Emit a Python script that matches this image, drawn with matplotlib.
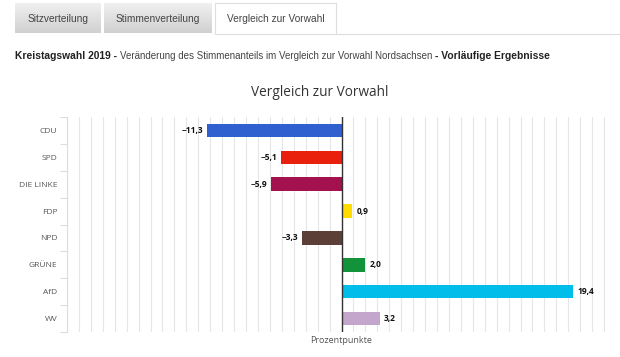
import numpy as np
import matplotlib.pyplot as plt
from matplotlib.patches import Rectangle
from matplotlib.colors import LinearSegmentedColormap

parties = ["CDU", "SPD", "DIE LINKE", "FDP", "NPD", "GRÜNE", "AfD", "WV"]
change = [-11.3, -5.1, -5.9, 0.9, -3.3, 2.0, 19.4, 3.2]
colors = ["#3060d0", "#e8200c", "#a3124e", "#ffdc00", "#5c4038", "#12933a", "#00bdea", "#c4a6cc"]
tabs = ["Sitzverteilung", "Stimmenverteilung", "Vergleich zur Vorwahl"]

W, H = 620, 357
plt.rcParams['font.family'] = ['Liberation Sans', 'DejaVu Sans']
fig = plt.figure(figsize=(W / 100, H / 100), dpi=100)


def fx(px):
    return px / W


def fy(py):
    return 1 - py / H


# tabs
tab_x = [(15, 101), (104, 212), (215, 336)]
grad = np.linspace(0, 1, 50).reshape(-1, 1)
tab_cmap = LinearSegmentedColormap.from_list("tab", ["#d0d0d0", "#f0f0f0"])
for (x0, x1), name, i in zip(tab_x, tabs, range(3)):
    if i < 2:
        tax = fig.add_axes([fx(x0), fy(33), fx(x1 - x0), (33 - 3) / H])
        tax.imshow(grad, aspect='auto', cmap=tab_cmap, extent=[0, 1, 0, 1], origin='lower')
        tax.set_axis_off()
    else:
        fig.patches.append(Rectangle((fx(x0), fy(34)), fx(x1 - x0), (34 - 3) / H,
                                     transform=fig.transFigure, facecolor='white',
                                     edgecolor='#dddddd', lw=0.8))
    fig.text(fx((x0 + x1) / 2), fy(19), name, ha='center', va='center',
             fontsize=7.3, color='#444444')
fig.add_artist(plt.Line2D([fx(336), 1], [fy(33.5), fy(33.5)], color='#dddddd', lw=0.8))

# subtitle line
sub_y = fy(56)
t1 = fig.text(fx(15), sub_y, "Kreistagswahl 2019 - ", fontsize=7.4, fontweight='bold',
              color='#222222', va='center')
fig.canvas.draw()
r = fig.canvas.get_renderer()
bb = t1.get_window_extent(r)
t2 = fig.text(bb.x1 / W, sub_y, "Veränderung des Stimmenanteils im Vergleich zur Vorwahl Nordsachsen ",
              fontsize=7.0, color='#444444', va='center')
bb = t2.get_window_extent(r)
fig.text(bb.x1 / W, sub_y, "- Vorläufige Ergebnisse", fontsize=7.4, fontweight='bold',
         color='#222222', va='center')

# title
fig.text(fx(320), fy(93), "Vergleich zur Vorwahl", fontsize=9.8, color='#333333',
         ha='center', va='center', family=['Open Sans', 'DejaVu Sans'])

# chart
ax = fig.add_axes([fx(67), fy(332), fx(616 - 67), (332 - 117) / H])
y = np.arange(len(parties))
ax.barh(y, change, height=0.5, color=colors, zorder=3)
ax.set_xlim(-23, 23)
ax.set_ylim(len(parties) - 0.5, -0.5)
ax.set_xticks(np.arange(-23, 24, 1))
ax.tick_params(axis='x', length=0, labelbottom=False)
ax.grid(axis='x', color='#e6e6e6', lw=0.8, zorder=0)
ax.axvline(0, color='#333333', lw=1, zorder=4)
ax.set_yticks(y)
ax.set_yticklabels(parties, fontsize=6, color='#555555', family=['Open Sans', 'DejaVu Sans'])
ax.set_yticks(np.arange(-0.5, len(parties), 1), minor=True)
ax.tick_params(axis='y', which='major', length=0, pad=7)
ax.tick_params(axis='y', which='minor', length=5, color='#d8dee9', width=0.8)
for s in ['top', 'right', 'bottom']:
    ax.spines[s].set_visible(False)
ax.spines['left'].set_color('#d8dee9')

for yi, v in zip(y, change):
    lab = f"{v:.1f}".replace('.', ',').replace('-', '\u2212')
    ax.text(v + (0.35 if v > 0 else -0.3), yi, lab, ha='left' if v > 0 else 'right',
            va='center', fontsize=6.0, fontweight='bold', color='#111111', zorder=5,
            family=['Open Sans', 'DejaVu Sans'])

ax.set_xlabel("Prozentpunkte", fontsize=6.5, color='#555555', labelpad=3,
              family=['Open Sans', 'DejaVu Sans'])

fig.savefig("out.png", dpi=100)
